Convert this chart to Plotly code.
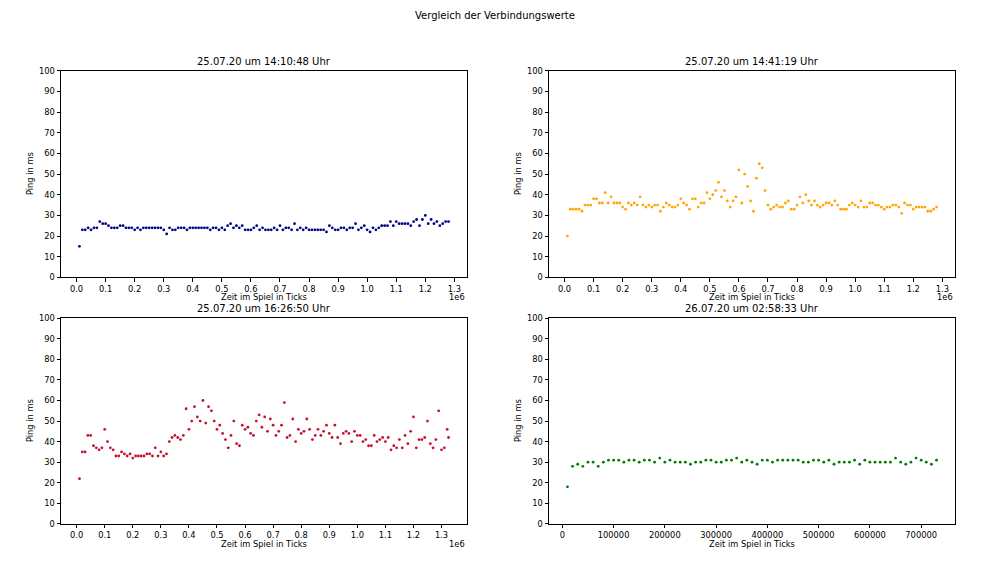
import plotly.graph_objects as go

# ---------------- data ----------------
titles = ["25.07.20 um 14:10:48 Uhr", "25.07.20 um 14:41:19 Uhr",
          "25.07.20 um 16:26:50 Uhr", "26.07.20 um 02:58:33 Uhr"]

ticks_1 = list(range(10000, 1290000, 10000))
ping_1 = [15, 23, 23, 24, 23, 24, 24, 27, 26, 26, 25, 24, 24, 24, 25, 25, 24, 24, 24, 23,
          24, 23, 24, 24, 24, 24, 24, 24, 24, 23, 21, 24, 23, 23, 24, 24, 24, 23, 24, 24,
          24, 24, 24, 24, 24, 23, 24, 24, 23, 24, 23, 25, 26, 24, 25, 24, 25, 23, 23, 23,
          24, 25, 23, 24, 23, 23, 23, 24, 23, 25, 23, 24, 24, 23, 26, 23, 24, 23, 24, 23,
          23, 23, 23, 23, 23, 22, 25, 24, 23, 23, 24, 24, 23, 24, 24, 26, 23, 24, 25, 23,
          22, 24, 23, 24, 25, 25, 25, 27, 25, 27, 26, 26, 26, 26, 25, 27, 28, 25, 28, 30,
          26, 28, 26, 27, 25, 26, 27, 27]

ticks_2 = list(range(10000, 1290000, 10000))
ping_2 = [20, 33, 33, 33, 33, 32, 35, 35, 35, 38, 38, 36, 36, 41, 36, 39, 36, 36, 36, 34,
          33, 36, 35, 36, 35, 39, 35, 34, 35, 34, 35, 35, 32, 34, 36, 35, 34, 34, 35, 38,
          36, 35, 33, 38, 38, 34, 36, 36, 41, 38, 40, 42, 46, 39, 42, 37, 34, 37, 39, 52,
          36, 50, 44, 37, 32, 48, 55, 53, 42, 35, 33, 34, 35, 34, 34, 36, 37, 33, 33, 35,
          39, 36, 40, 37, 35, 37, 35, 34, 35, 36, 36, 35, 37, 35, 33, 33, 33, 35, 36, 35,
          34, 37, 34, 34, 36, 36, 35, 35, 34, 33, 34, 34, 35, 35, 34, 31, 36, 35, 35, 33,
          34, 34, 34, 34, 32, 32, 33, 34]

ticks_3 = list(range(10000, 1330000, 10000)) + [1325000]
ping_3 = [22, 35, 35, 43, 43, 38, 37, 36, 37, 46, 40, 37, 36, 33, 33, 35, 34, 33, 34, 32,
          33, 33, 33, 33, 34, 34, 33, 37, 33, 35, 33, 34, 40, 42, 43, 42, 41, 43, 56, 46,
          50, 57, 52, 50, 60, 49, 57, 55, 50, 46, 48, 44, 41, 37, 43, 50, 39, 38, 48, 46,
          47, 44, 43, 50, 53, 47, 52, 45, 51, 48, 43, 45, 48, 59, 42, 43, 51, 40, 46, 44,
          45, 51, 46, 41, 43, 46, 43, 45, 48, 44, 42, 48, 42, 39, 44, 45, 44, 40, 45, 43,
          43, 40, 41, 38, 38, 43, 40, 41, 42, 40, 42, 36, 38, 37, 41, 37, 43, 39, 45, 52,
          37, 41, 41, 42, 50, 39, 37, 41, 55, 36, 37, 46, 42]

ticks_4 = list(range(10000, 740000, 10000))
ping_4 = [18, 28, 29, 28, 30, 30, 28, 30, 31, 31, 31, 30, 31, 31, 30, 31, 31, 30, 32, 30,
          31, 30, 30, 30, 29, 30, 30, 31, 31, 30, 30, 31, 31, 32, 30, 31, 30, 29, 31, 31,
          30, 31, 31, 31, 31, 31, 30, 30, 31, 31, 30, 31, 29, 30, 30, 30, 31, 29, 31, 30,
          30, 30, 30, 30, 32, 30, 29, 30, 32, 31, 30, 29, 31]

colors = ["#00008b", "#ffa500", "#c8102e", "#007a00"]
x_tick_vals_1e6 = [0.0, 0.1, 0.2, 0.3, 0.4, 0.5, 0.6, 0.7, 0.8, 0.9, 1.0, 1.1, 1.2, 1.3]
x_tick_vals_abs = [0, 100000, 200000, 300000, 400000, 500000, 600000, 700000]
y_ticks = [0, 10, 20, 30, 40, 50, 60, 70, 80, 90, 100]

# ---------------- layout geometry ----------------
W, H = 999, 576
FONT = "DejaVu Sans"
col_px = [(61, 467), (549, 955)]
row_px = [(70, 277), (318, 524)]

def px_x(p):
    return p / W

def px_y(p):
    # compensate the vertical placement observed in the rendered page
    q = (p - 4.1) / 0.9846
    return 1 - q / H

series = [(ticks_1, ping_1), (ticks_2, ping_2), (ticks_3, ping_3), (ticks_4, ping_4)]

fig = go.Figure()
annotations = []
layout_axes = {}

for i, (xs, ys) in enumerate(series):
    r, c = divmod(i, 2)
    idx = "" if i == 0 else str(i + 1)
    xa, ya = "x" + idx, "y" + idx
    fig.add_trace(go.Scatter(x=xs, y=ys, mode="markers", xaxis=xa, yaxis=ya,
                             marker=dict(color=colors[i], size=2.8, line=dict(width=0)),
                             showlegend=False, hoverinfo="x+y"))
    x0, x1 = col_px[c]
    yt, yb = row_px[r]
    xmin, xmax = min(xs), max(xs)
    pad = 0.05 * (xmax - xmin)
    if i < 3:
        tv = [v * 1e6 for v in x_tick_vals_1e6 if v * 1e6 <= xmax + pad]
        tt = ["%.1f" % v for v in x_tick_vals_1e6 if v * 1e6 <= xmax + pad]
    else:
        tv = x_tick_vals_abs
        tt = [str(v) for v in x_tick_vals_abs]
    common = dict(showline=True, linecolor="black", linewidth=1, mirror=True,
                  ticks="outside", ticklen=3.5, tickcolor="black", tickwidth=1,
                  showgrid=False, zeroline=False,
                  tickfont=dict(family=FONT, size=8.3, color="black"))
    layout_axes["xaxis" + idx] = dict(domain=[px_x(x0), px_x(x1)], anchor=ya,
                                      range=[xmin - pad, xmax + pad],
                                      tickmode="array", tickvals=tv, ticktext=tt, **common)
    layout_axes["yaxis" + idx] = dict(domain=[px_y(yb), px_y(yt)], anchor=xa,
                                      range=[0, 100], tickmode="array", tickvals=y_ticks,
                                      **common)
    # subplot title
    annotations.append(dict(text=titles[i], x=px_x((x0 + x1) / 2), y=px_y(yt - 2),
                            xref="paper", yref="paper", xanchor="center", yanchor="bottom",
                            showarrow=False, font=dict(family=FONT, size=10, color="black")))
    # x label
    annotations.append(dict(text="Zeit im Spiel in Ticks", x=px_x((x0 + x1) / 2),
                            y=px_y(yb + 20), xref="paper", yref="paper",
                            xanchor="center", yanchor="middle", showarrow=False,
                            font=dict(family=FONT, size=8.3, color="black")))
    # y label
    annotations.append(dict(text="Ping in ms", x=px_x(x0 - 31), y=px_y((yt + yb) / 2),
                            xref="paper", yref="paper", xanchor="center", yanchor="middle",
                            textangle=-90, showarrow=False,
                            font=dict(family=FONT, size=8.3, color="black")))
    if i < 3:
        annotations.append(dict(text="1e6", x=px_x(x1), y=px_y(yb + 20), xref="paper",
                                yref="paper", xanchor="right", yanchor="middle",
                                showarrow=False,
                                font=dict(family=FONT, size=8.3, color="black")))

annotations.append(dict(text="Vergleich der Verbindungswerte", x=px_x(495), y=px_y(15),
                        xref="paper", yref="paper", xanchor="center", yanchor="middle",
                        showarrow=False, font=dict(family=FONT, size=10, color="black")))

fig.update_layout(width=W, height=H, margin=dict(l=0, r=0, t=0, b=0),
                  paper_bgcolor="white", plot_bgcolor="white",
                  annotations=annotations, **layout_axes)

fig.write_html("out.html", config={"displayModeBar": False},
               post_script="document.body.style.margin='0';document.body.style.padding='0';")
